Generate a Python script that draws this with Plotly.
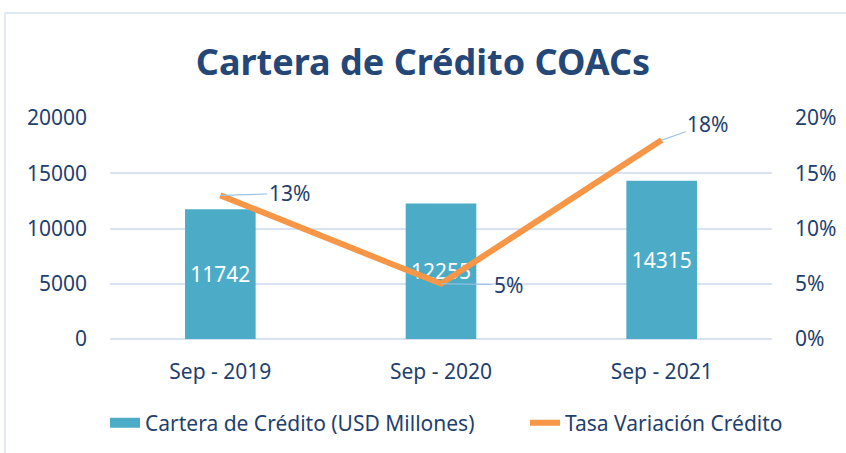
import plotly.graph_objects as go

categories = ["Sep - 2019", "Sep - 2020", "Sep - 2021"]
cartera = [11742, 12255, 14315]
tasa = [0.13, 0.05, 0.18]
tasa_labels = ["13%", "5%", "18%"]
label_offsets = [(69, -2), (67, 1), (46, -16)]

W, H = 846, 453
L, R, T, B = 110, 74, 118, 114
pw, ph = W - L - R, H - T - B

txt = "#1f3f6e"
font = "Noto Sans"
fs = 21

fig = go.Figure()
fig.add_trace(go.Bar(
    x=categories, y=cartera, name="Cartera de Crédito (USD Millones)",
    marker=dict(color="#4cacc7", line=dict(width=0)), showlegend=False,
    width=0.32, text=[str(v) for v in cartera], textposition="inside",
    insidetextanchor="middle", textfont=dict(color="white", size=fs, family=font),
    hoverinfo="skip"))
# legend glyph for the bars (wide rectangle like the original)
fig.add_trace(go.Scatter(
    x=[None], y=[None], name="Cartera de Crédito (USD Millones)",
    mode="lines", line=dict(color="#4cacc7", width=15), hoverinfo="skip",
    legend="legend"))
fig.add_trace(go.Scatter(
    x=categories, y=tasa, name="Tasa Variación Crédito", yaxis="y2",
    mode="lines", line=dict(color="#f79646", width=6), hoverinfo="skip",
    legend="legend2"))

for c, v, t, (ax, ay) in zip(categories, tasa, tasa_labels, label_offsets):
    fig.add_annotation(x=c, y=v, yref="y2", text=t, showarrow=True,
                       arrowhead=0, arrowcolor="#9dc3e6", arrowwidth=1.2,
                       ax=ax, ay=ay, font=dict(size=fs, color=txt, family=font))

fig.add_shape(type="rect", xref="paper", yref="paper",
              x0=(5 - L) / pw, x1=(W + 5 - L) / pw,
              y0=(H - B - (H + 5)) / ph, y1=(H - B - 13) / ph,
              line=dict(color="#d6e3f3", width=1.5), layer="below")

leg_y = -(423 - (H - B)) / ph
leg_common = dict(orientation="h", xanchor="left", y=leg_y, yanchor="middle",
                  font=dict(size=fs, color=txt, family=font), bgcolor="rgba(0,0,0,0)")

fig.update_layout(
    width=W, height=H, margin=dict(l=L, r=R, t=T, b=B, autoexpand=False),
    paper_bgcolor="white", plot_bgcolor="white",
    title=dict(text="<b>Cartera de Crédito COACs</b>", x=0.5, xanchor="center",
               y=1 - 62 / H, yanchor="middle",
               font=dict(size=36, color="#254778", family=font)),
    font=dict(family=font, color=txt, size=fs),
    xaxis=dict(showgrid=False, showline=False, ticks="", ticklabelstandoff=18,
               tickfont=dict(size=fs, color=txt, family=font)),
    yaxis=dict(range=[0, 20000], dtick=5000, showgrid=True, gridcolor="#d9e2f1",
               gridwidth=2, zeroline=True, zerolinecolor="#d9e2f1", zerolinewidth=2,
               showline=False, ticks="", tickformat="d", ticklabelstandoff=22,
               tickfont=dict(size=fs, color=txt, family=font)),
    yaxis2=dict(range=[0, 0.2], dtick=0.05, overlaying="y", side="right",
                tickformat=".0%", showgrid=False, zeroline=False, showline=False,
                ticklabelstandoff=22,
                tickfont=dict(size=fs, color=txt, family=font)),
    legend=dict(x=(105 - L) / pw, **leg_common),
    legend2=dict(x=(525 - L) / pw, **leg_common),
    showlegend=True,
)
fig.write_html("out.html", config={"displayModeBar": False},
               post_script="document.body.style.margin='0px';")
